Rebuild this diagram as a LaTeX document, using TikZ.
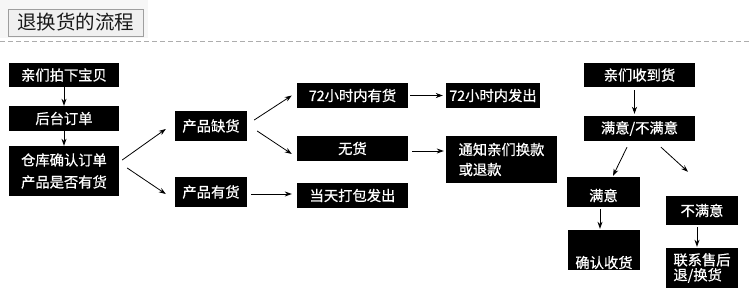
\documentclass[tikz,border=0pt]{standalone}
\usepackage{fontspec}
\newfontfamily\cjk{Noto Sans CJK SC}
\newfontfamily\cjkb[FakeBold=0.7]{Noto Sans CJK SC}
\usetikzlibrary{positioning,arrows.meta,calc}
\definecolor{titlefill}{gray}{0.94}
\definecolor{titleback}{gray}{0.965}
\definecolor{titleline}{gray}{0.62}
\definecolor{rulegrey}{gray}{0.68}
\tikzset{
  blk/.style={fill=black,text=white,inner sep=0pt,align=center,
              font=\cjkb\fontsize{14.3}{16}\selectfont},
  ln/.style={-{Stealth[length=7pt,width=5pt]},line width=0.8pt},
  ttl/.style={draw=titleline,fill=titlefill,line width=0.8pt,inner sep=0pt,
              minimum width=135pt,minimum height=27pt,
              font=\cjk\fontsize{19.5}{22}\selectfont,text=black!90},
}

\begin{document}
\begin{tikzpicture}[x=1pt,y=-1pt]
\useasboundingbox (0,0) rectangle (750,306);
\fill[white] (0,0) rectangle (750,306);

% title
\fill[titleback] (0,0) rectangle (148,38);
\node[ttl] (title) at (75.5,22.5) {退换货的流程};
\draw[rulegrey,dash pattern=on 5pt off 3pt,line width=0.8pt] (0,41) -- (750,41);

% order column
\node[blk,minimum width=110pt,minimum height=24pt] (pai) at (64,75) {亲们拍下宝贝};
\node[blk,minimum width=110pt,minimum height=25pt] (ht) at (64,118.5) {后台订单};
\node[blk,minimum width=110pt,minimum height=50pt,
      font=\cjkb\fontsize{14.3}{22}\selectfont] (ck) at (64,171) {仓库确认订单\\产品是否有货};

\draw[ln] (pai.south) -- (ht.north);
\draw[ln] (ht.south) -- (ck.north);

% stock
\node[blk,minimum width=72pt,minimum height=30pt] (que) at (211,126) {产品缺货};
\node[blk,minimum width=72pt,minimum height=30pt] (you) at (211,192) {产品有货};

\draw[ln] ([xshift=3pt,yshift=11pt]ck.east) -- ([xshift=-9pt,yshift=-3pt]que.west);
\draw[ln] ([xshift=8pt,yshift=3pt]ck.east) -- ([xshift=-9pt,yshift=-2pt]you.west);

\node[blk,minimum width=111pt,minimum height=25pt] (h72) at (352.5,95.5) {72小时内有货};
\node[blk,minimum width=111pt,minimum height=25pt] (wu) at (352.5,148.5) {无货};
\node[blk,minimum width=111pt,minimum height=25pt] (dt) at (352.5,195.5) {当天打包发出};

\draw[ln] ([xshift=7pt,yshift=6pt]que.east) -- ([xshift=-5pt]h72.west);
\draw[ln] ([xshift=10pt,yshift=-5pt]que.east) -- ([xshift=-5pt,yshift=-5.5pt]wu.west);
\draw[ln,shorten <=4pt,shorten >=5pt] ([yshift=-2pt]you.east) -- ([yshift=-2pt]you.east -| dt.west);

\node[blk,minimum width=94pt,minimum height=25pt] (fa) at (493,95.5) {72小时内发出};
\node[blk,minimum width=111pt,minimum height=47pt,align=left,
      font=\cjkb\fontsize{14.3}{20}\selectfont] (tz) at (501.5,159.5) {通知亲们换款\\或退款};

\draw[ln,shorten <=2pt,shorten >=3pt] (h72.east) -- (h72.east -| fa.west);
\draw[ln,shorten <=4pt,shorten >=2pt] ([yshift=-2.5pt]wu.east) -- ([yshift=-2.5pt]wu.east -| tz.west);

% after receiving
\node[blk,minimum width=111pt,minimum height=24pt] (sd) at (639.5,75) {亲们收到货};
\node[blk,minimum width=111pt,minimum height=25pt] (my) at (639.5,128.5) {满意/不满意};
\node[blk,minimum width=73pt,text height=24pt,text depth=6pt] (ok) at (603.5,192) {满意};
\node[blk,minimum width=72pt,minimum height=29pt] (no) at (702,210.5) {不满意};
\node[blk,minimum width=72pt,text height=38pt,text depth=2pt] (qr) at (604,250) {确认收货};
\node[blk,minimum width=72pt,minimum height=40pt,align=left,
      font=\cjkb\fontsize{14.3}{15}\selectfont] (lx) at (702,268) {联系售后\\退/换货};

\draw[ln] ([xshift=-5pt,yshift=-3pt]sd.south) -- ([xshift=-5pt,yshift=2pt]my.north);
\draw[ln] ([xshift=-12.5pt,yshift=-6pt]my.south) -- ([xshift=9.5pt,yshift=1pt]ok.north);
\draw[ln] ([xshift=21.5pt,yshift=-6pt]my.south) -- ([xshift=-14pt,yshift=24pt]no.north);
\draw[ln] ([xshift=-3.5pt,yshift=-2pt]ok.south) -- ([xshift=-4pt,yshift=1pt]qr.north);
\draw[ln] ([xshift=-5pt,yshift=-2pt]no.south) -- ([xshift=-5pt,yshift=1pt]lx.north);

\end{tikzpicture}
\end{document}
